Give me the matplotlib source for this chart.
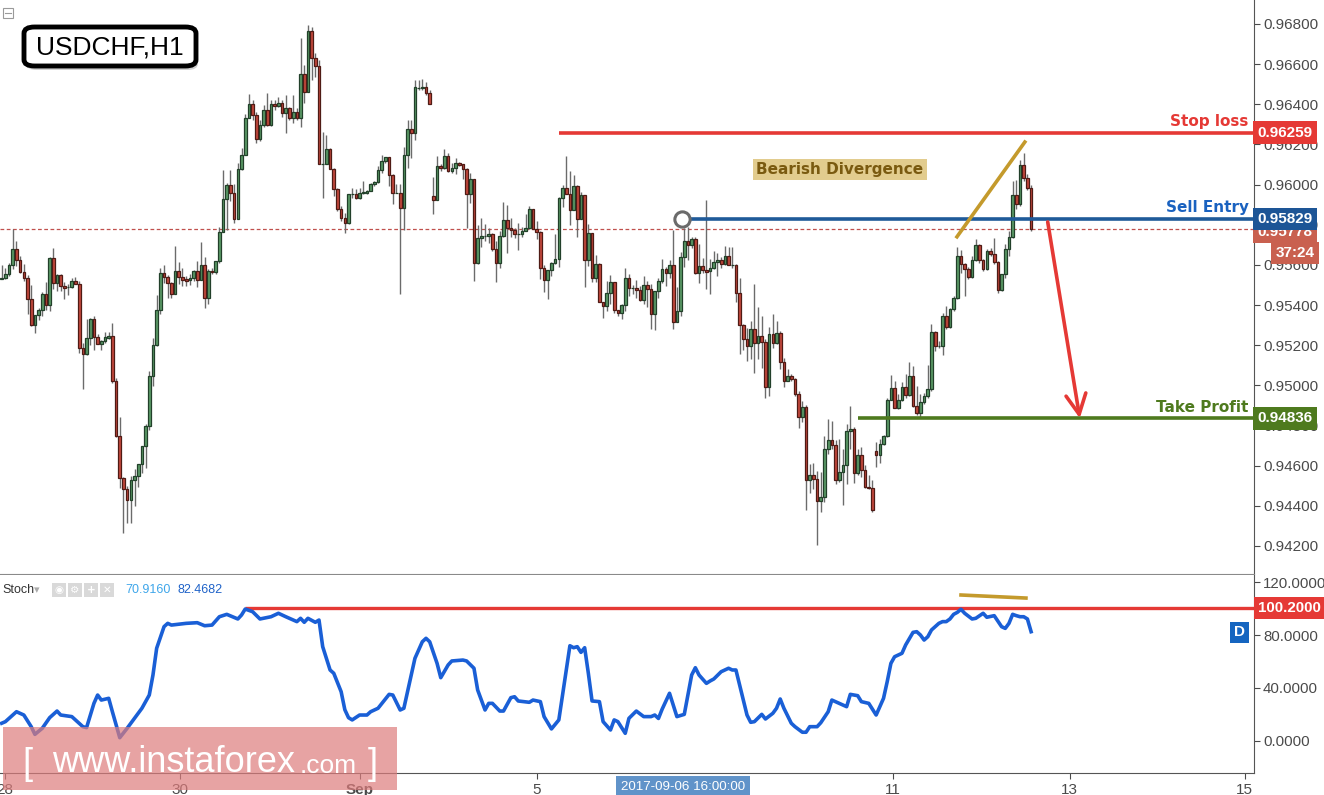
import matplotlib
matplotlib.use('Agg')
import matplotlib.pyplot as plt
import matplotlib.transforms as mtransforms
from matplotlib.patches import Rectangle, FancyBboxPatch
import numpy as np

# USDCHF H1, prices in 1e-5 units
opens = [95530, 95535, 95555, 95600, 95680, 95625, 95565, 95535, 95430, 95300,
         95350, 95375, 95455, 95400, 95635, 95510, 95550, 95495, 95490, 95490,
         95520, 95505, 95185, 95155, 95235, 95330, 95240, 95205, 95220, 95235,
         95245, 95020, 94750, 94540, 94485, 94430, 94530, 94550, 94610, 94700,
         94800, 95045, 95200, 95375, 95560, 95540, 95510, 95455, 95570, 95540,
         95530, 95525, 95535, 95570, 95525, 95600, 95435, 95570, 95565, 95620,
         95765, 95930, 96000, 95960, 95830, 96080, 96145, 96330, 96400, 96345,
         96225, 96295, 96370, 96295, 96400, 96390, 96405, 96355, 96380, 96330,
         96360, 96330, 96550, 96460, 96765, 96630, 96590, 96105, 96105, 96175,
         96080, 95980, 95880, 95835, 95810, 95955, 95955, 95935, 95960, 95960,
         95970, 96005, 96015, 96075, 96120, 96135, 96050, 95960, 95960, 95885,
         96145, 96275, 96255, 96480, 96480, 96485, 96455, 95945, 95925, 96095,
         96085, 96140, 96070, 96085, 96110, 96105, 96080, 95955, 96030, 95610,
         95735, 95745, 95745, 95755, 95680, 95610, 95745, 95825, 95785, 95775,
         95755, 95755, 95770, 95785, 95880, 95780, 95765, 95585, 95525, 95575,
         95610, 95630, 95935, 95985, 95955, 95875, 95995, 95830, 95950, 95625,
         95760, 95535, 95605, 95415, 95395, 95460, 95515, 95375, 95360, 95400,
         95535, 95485, 95485, 95475, 95425, 95500, 95480, 95355, 95470, 95520,
         95580, 95560, 95600, 95315, 95370, 95640, 95720, 95700, 95730, 95560,
         95595, 95575, 95570, 95585, 95615, 95625, 95605, 95645, 95600, 95600,
         95460, 95300, 95230, 95195, 95280, 95210, 95245, 95215, 94990, 95255,
         95210, 95260, 95115, 95020, 95045, 95030, 94955, 94840, 94890, 94530,
         94555, 94535, 94425, 94445, 94685, 94730, 94705, 94530, 94570, 94605,
         94775, 94785, 94565, 94655, 94580, 94495, 94490, 94675, 94655, 94710,
         94750, 94925, 94985, 94885, 94925, 94990, 94950, 95045, 94895, 94860,
         94915, 94945, 94980, 95265, 95195, 95195, 95345, 95290, 95380, 95435,
         95645, 95605, 95580, 95540, 95625, 95700, 95625, 95580, 95670, 95655,
         95615, 95475, 95555, 95680, 95740, 95950, 95905, 96100, 96035, 95985]

highs = [95600, 95585, 95610, 95780, 95720, 95645, 95605, 95550, 95500, 95350,
         95385, 95465, 95515, 95640, 95685, 95555, 95555, 95515, 95505, 95535,
         95540, 95520, 95210, 95330, 95335, 95345, 95255, 95225, 95265, 95265,
         95310, 95035, 94840, 94545, 94500, 94550, 94585, 94610, 94700, 94810,
         95070, 95235, 95450, 95585, 95600, 95550, 95515, 95695, 95615, 95585,
         95545, 95555, 95575, 95620, 95715, 95640, 95580, 95585, 95620, 95790,
         96075, 96010, 96075, 96005, 96110, 96180, 96350, 96450, 96420, 96360,
         96320, 96395, 96455, 96420, 96420, 96435, 96420, 96445, 96385, 96445,
         96380, 96730, 96595, 96795, 96785, 96655, 96620, 96260, 96245, 96180,
         96085, 95985, 95895, 95860, 95955, 95985, 95980, 95985, 96020, 95975,
         96010, 96020, 96095, 96145, 96135, 96135, 96055, 96005, 96005, 96185,
         96320, 96320, 96520, 96520, 96525, 96510, 96470, 96040, 96140, 96105,
         96175, 96155, 96110, 96130, 96115, 96105, 96085, 96060, 96030, 95800,
         95835, 95805, 95785, 95760, 95720, 95770, 95915, 95900, 95835, 95785,
         95810, 95790, 95855, 95895, 95880, 95820, 95770, 95600, 95575, 95615,
         95755, 95940, 96000, 96140, 96070, 96050, 96000, 95965, 95950, 95805,
         95760, 95650, 95610, 95415, 95520, 95550, 95515, 95375, 95405, 95585,
         95555, 95500, 95525, 95495, 95545, 95520, 95505, 95470, 95535, 95630,
         95590, 95625, 95775, 95490, 95665, 95785, 95790, 95740, 95740, 95705,
         95635, 95925, 95630, 95670, 95660, 95640, 95695, 95690, 95690, 95605,
         95535, 95305, 95285, 95320, 95505, 95390, 95345, 95230, 95290, 95355,
         95320, 95270, 95135, 95080, 95055, 95035, 94970, 94920, 94900, 94610,
         94615, 94575, 94570, 94750, 94830, 94820, 94730, 94735, 94685, 94810,
         94895, 94795, 94685, 94695, 94605, 94555, 94530, 94720, 94735, 94755,
         94935, 95050, 95020, 94955, 95015, 95055, 95115, 95095, 94995, 94955,
         94960, 95100, 95305, 95270, 95220, 95360, 95395, 95385, 95445, 95690,
         95675, 95610, 95590, 95645, 95730, 95705, 95630, 95680, 95685, 95735,
         95620, 95555, 95705, 95770, 96020, 96025, 96125, 96155, 96055, 96000]

lows = [95530, 95530, 95545, 95580, 95595, 95560, 95520, 95355, 95295, 95260,
        95325, 95345, 95375, 95370, 95480, 95470, 95470, 95430, 95450, 95485,
        95505, 95160, 94980, 95150, 95200, 95175, 95205, 95175, 95210, 95230,
        95010, 94745, 94490, 94265, 94315, 94315, 94400, 94495, 94565, 94590,
        94780, 94995, 95195, 95355, 95510, 95435, 95435, 95455, 95505, 95495,
        95495, 95500, 95520, 95490, 95525, 95385, 95405, 95555, 95555, 95610,
        95765, 95775, 95920, 95810, 95830, 96075, 96145, 96330, 96320, 96205,
        96215, 96285, 96290, 96290, 96370, 96385, 96335, 96255, 96320, 96305,
        96320, 96285, 96405, 96460, 96520, 96535, 96105, 95935, 96105, 96080,
        95945, 95870, 95820, 95760, 95805, 95935, 95930, 95930, 95955, 95955,
        95970, 95995, 96010, 96060, 96110, 95995, 95905, 95960, 95455, 95775,
        96085, 96130, 96220, 96470, 96470, 96445, 96400, 95855, 95925, 96070,
        96080, 96065, 96060, 96055, 96095, 96030, 95785, 95910, 95520, 95605,
        95690, 95720, 95710, 95670, 95515, 95585, 95740, 95660, 95740, 95735,
        95675, 95740, 95770, 95780, 95780, 95730, 95530, 95465, 95430, 95545,
        95605, 95590, 95890, 95955, 95800, 95875, 95740, 95830, 95490, 95595,
        95515, 95515, 95415, 95335, 95370, 95405, 95360, 95345, 95330, 95370,
        95445, 95455, 95435, 95420, 95405, 95390, 95280, 95275, 95435, 95510,
        95495, 95535, 95280, 95315, 95345, 95590, 95625, 95685, 95555, 95510,
        95560, 95480, 95455, 95580, 95545, 95585, 95600, 95600, 95585, 95415,
        95155, 95175, 95120, 95130, 95060, 95130, 95085, 94935, 94945, 95185,
        95205, 95080, 94990, 95020, 95020, 94945, 94790, 94815, 94380, 94465,
        94485, 94205, 94370, 94420, 94660, 94685, 94510, 94520, 94405, 94510,
        94685, 94515, 94555, 94545, 94490, 94485, 94370, 94595, 94615, 94705,
        94745, 94925, 94885, 94880, 94920, 94935, 94945, 94890, 94850, 94840,
        94905, 94935, 94970, 95170, 95185, 95150, 95280, 95285, 95370, 95430,
        95560, 95445, 95530, 95535, 95620, 95610, 95570, 95575, 95645, 95605,
        95460, 95470, 95535, 95645, 95735, 95880, 95895, 96020, 95975, 95770]

closes = [95535, 95555, 95600, 95680, 95625, 95565, 95535, 95430, 95300, 95350,
          95375, 95455, 95400, 95635, 95510, 95550, 95495, 95485, 95490, 95520,
          95505, 95185, 95155, 95235, 95330, 95240, 95205, 95220, 95240, 95245,
          95020, 94750, 94540, 94485, 94430, 94530, 94550, 94610, 94700, 94800,
          95045, 95200, 95375, 95560, 95540, 95510, 95455, 95570, 95540, 95525,
          95520, 95535, 95570, 95525, 95600, 95435, 95570, 95565, 95620, 95765,
          95930, 96000, 95960, 95830, 96080, 96145, 96330, 96400, 96345, 96225,
          96295, 96370, 96295, 96400, 96390, 96405, 96355, 96380, 96330, 96360,
          96330, 96550, 96460, 96765, 96630, 96590, 96105, 96105, 96175, 96080,
          95980, 95880, 95835, 95810, 95955, 95955, 95935, 95960, 95965, 95970,
          96005, 96015, 96075, 96120, 96135, 96050, 95960, 95960, 95885, 96145,
          96275, 96255, 96485, 96480, 96485, 96455, 96400, 95925, 96095, 96085,
          96140, 96070, 96085, 96110, 96100, 96080, 95955, 96030, 95610, 95735,
          95745, 95745, 95755, 95680, 95610, 95745, 95825, 95785, 95775, 95755,
          95755, 95770, 95785, 95880, 95780, 95765, 95585, 95525, 95575, 95610,
          95630, 95935, 95985, 95955, 95875, 95995, 95830, 95950, 95625, 95760,
          95535, 95605, 95415, 95395, 95460, 95515, 95375, 95360, 95400, 95535,
          95485, 95485, 95475, 95425, 95500, 95480, 95355, 95470, 95520, 95580,
          95560, 95600, 95315, 95370, 95640, 95720, 95700, 95730, 95560, 95595,
          95575, 95565, 95585, 95615, 95625, 95605, 95645, 95600, 95600, 95460,
          95300, 95230, 95195, 95280, 95210, 95245, 95215, 94990, 95255, 95210,
          95260, 95115, 95020, 95045, 95030, 94955, 94840, 94890, 94530, 94555,
          94535, 94425, 94445, 94685, 94730, 94705, 94530, 94570, 94605, 94775,
          94785, 94565, 94655, 94580, 94495, 94490, 94380, 94655, 94710, 94750,
          94925, 94985, 94885, 94925, 94990, 94950, 95045, 94895, 94860, 94915,
          94945, 94980, 95265, 95195, 95195, 95345, 95290, 95380, 95435, 95645,
          95605, 95580, 95540, 95625, 95700, 95625, 95580, 95670, 95655, 95615,
          95475, 95555, 95680, 95740, 95950, 95905, 96100, 96035, 95985, 95778]

# Stochastic %D (bar index, value)
stoch_points = [(0, 13.4), (1, 14.6), (4, 22.1), (6, 19.6), (8, 10.8), (9, 5.0), (11, 9.6),
                (13, 17.6), (15, 22.6), (16, 19.6), (19, 18.4), (22, 10.8), (23, 10.1),
                (25, 28.4), (26, 34.7), (27, 30.9), (29, 32.2), (30, 22.1), (32, 2.5),
                (34, 9.6), (36, 17.1), (38, 24.7), (40, 34.7), (41, 49.8), (42, 70.0),
                (44, 86.3), (45, 88.8), (46, 87.5), (50, 88.8), (53, 89.3), (55, 87.0),
                (57, 87.5), (59, 93.8), (61, 95.6), (64, 92.1), (65, 95.1), (66, 99.6),
                (68, 97.6), (70, 92.1), (73, 93.8), (75, 96.4), (77, 93.8), (79, 91.3),
                (80, 90.1), (81, 92.6), (82, 89.6), (83, 92.6), (85, 89.6), (86, 91.3),
                (87, 71.2), (89, 53.6), (90, 51.1), (92, 37.2), (93, 23.6), (94, 17.6),
                (95, 15.9), (97, 19.6), (99, 19.6), (100, 22.1), (102, 24.7), (105, 35.2),
                (106, 34.7), (108, 23.4), (109, 24.7), (111, 49.8), (112, 62.4), (114, 74.9),
                (115, 77.5), (116, 74.9), (118, 58.6), (119, 47.8), (121, 57.4), (122, 60.4),
                (125, 61.1), (126, 60.4), (128, 54.9), (129, 38.5), (131, 23.4), (132, 28.4),
                (133, 28.4), (135, 22.6), (136, 22.6), (138, 32.7), (139, 33.4), (140, 30.2),
                (143, 29.2), (144, 30.9), (146, 29.7), (147, 18.4), (149, 9.1), (151, 15.9),
                (152, 34.7), (154, 71.9), (155, 70.4), (156, 71.2), (157, 66.9), (158, 70.4),
                (159, 51.1), (160, 30.2), (162, 29.7), (163, 14.6), (165, 8.3), (166, 15.9),
                (167, 14.6), (169, 5.8), (170, 17.1), (172, 22.6), (174, 18.4), (176, 18.4),
                (177, 19.6), (178, 17.0), (179, 24.0), (181, 36.0), (183, 18.4), (185, 20.1),
                (187, 49.8), (188, 55.3), (189, 49.8), (191, 43.5), (192, 45.3), (193, 46.8),
                (195, 52.3), (197, 54.9), (198, 53.6), (199, 53.6), (200, 42.3), (202, 19.6),
                (203, 14.1), (204, 14.6), (206, 20.1), (207, 16.6), (209, 20.9), (210, 24.7),
                (211, 31.7), (212, 24.7), (214, 13.4), (215, 10.8), (217, 6.6), (218, 6.6),
                (219, 10.8), (221, 10.8), (222, 13.8), (224, 22.1), (225, 30.9), (227, 28.4),
                (229, 25.9), (230, 35.2), (232, 34.2), (233, 29.7), (235, 28.4), (237, 19.6),
                (239, 32.2), (240, 44.8), (241, 58.6), (242, 63.6), (244, 66.2), (245, 72.5),
                (247, 82.0), (248, 82.5), (249, 80.0), (250, 76.2), (251, 78.7), (252, 83.8),
                (254, 88.8), (255, 90.1), (256, 90.1), (257, 92.1), (258, 95.6), (259, 97.1),
                (260, 99.4), (261, 96.4), (263, 92.1), (264, 92.6), (266, 96.4), (267, 93.4),
                (269, 94.6), (271, 86.3), (272, 85.0), (273, 88.8), (274, 95.6), (275, 94.6),
                (276, 93.8), (277, 93.8), (278, 92.1), (279, 82.5)]

# x axis labels (bar index where the day starts)
day_pos = [0.9, 48.3, 97.1, 145.1, 241.5, 289.5, 336.9]
day_labels = ['28', '30', 'Sep', '5', '11', '13', '15']

# trade levels
stop_loss = 0.96259
sell_entry = 0.95829
take_profit = 0.94836
last_price = 0.95778
stoch_level = 100.2

plt.rcParams['font.family'] = ['Liberation Sans', 'DejaVu Sans']

o = np.array(opens) / 1e5
h = np.array(highs) / 1e5
l = np.array(lows) / 1e5
c = np.array(closes) / 1e5
c[-1] = last_price
idx = np.arange(len(c))
up = c >= o

fig = plt.figure(figsize=(13.24, 7.95), dpi=100)
ax = fig.add_axes([0, 0.278, 0.9471, 0.722])
ax2 = fig.add_axes([0, 0.0277, 0.9471, 0.249], sharex=ax)

# candles
ax.vlines(idx, l, h, color='#6b6b6b', lw=1, zorder=2)
ax.bar(idx[up], (c - o)[up], bottom=o[up], width=0.72, color='#5b9a66',
       edgecolor='#22402a', linewidth=0.9, zorder=3)
ax.bar(idx[~up], (o - c)[~up], bottom=c[~up], width=0.72, color='#c3483d',
       edgecolor='#4f1b15', linewidth=0.9, zorder=3)

ax.set_xlim(-0.46, 339.4)
ax.set_ylim(0.940604, 0.969195)

# levels
ax.axhline(last_price, color='#c0504d', lw=0.9, ls=(0, (3, 2)), zorder=1)
ax.hlines(stop_loss, 151, 340, color='#e53935', lw=2.6, zorder=4)
ax.hlines(sell_entry, 186.5, 340, color='#1f5a99', lw=2.6, zorder=4)
ax.hlines(take_profit, 232, 340, color='#4e7a1e', lw=2.6, zorder=4)
ax.plot([184.4], [sell_entry], 'o', ms=11, mfc='white', mec='#6b6b6b', mew=2.2, zorder=5)

ax.annotate('', xy=(292.2, take_profit), xytext=(283.5, 0.95814),
            arrowprops=dict(arrowstyle='->,head_length=0.9,head_width=0.45', color='#e53935',
                            lw=2.6, shrinkA=0, shrinkB=0, mutation_scale=16), zorder=5)
ax.plot([258.9, 277.3], [0.9574, 0.96212], color='#c49a2c', lw=2.6, zorder=4)

lab_kw = dict(textcoords='offset points', ha='right', va='bottom', fontsize=11,
              fontweight='bold', family='DejaVu Sans', zorder=6)
ax.annotate('Stop loss', xy=(338, stop_loss), xytext=(0, 2.5), color='#e53935', **lab_kw)
ax.annotate('Sell Entry', xy=(338, sell_entry), xytext=(0, 2.5), color='#1a62c0', **lab_kw)
ax.annotate('Take Profit', xy=(338, take_profit), xytext=(0, 2.5), color='#4e7a1e', **lab_kw)

ax.text(227.2, 0.96073, 'Bearish Divergence', ha='center', va='center', fontsize=11,
        fontweight='bold', family='DejaVu Sans', color='#7a5a10',
        bbox=dict(boxstyle='square,pad=0.2', fc='#e2cc8e', ec='none'))

# price axis
ax.yaxis.tick_right()
ax.set_yticks(np.arange(0.942, 0.9681, 0.002))
ax.yaxis.set_major_formatter(matplotlib.ticker.FormatStrFormatter('%.5f'))
ax.tick_params(axis='y', length=4, pad=2.5, colors='#4a4a4a', labelsize=11, width=0.8)
ax.tick_params(axis='x', bottom=False, labelbottom=False)
for s in ['top', 'left']:
    ax.spines[s].set_visible(False)
ax.spines['right'].set_color('#555555')
ax.spines['bottom'].set_color('#8a8a8a')

tr = mtransforms.blended_transform_factory(ax.transAxes, ax.transData)
box_kw = dict(transform=tr, ha='left', va='center', color='white', fontsize=11,
              fontweight='bold', zorder=10, clip_on=False)
ax.text(1.003, last_price - 0.00012, '0.95778', bbox=dict(boxstyle='square,pad=0.28', fc='#c9604f', ec='none'), **box_kw)
ax.text(1.003, stop_loss, '0.96259', bbox=dict(boxstyle='square,pad=0.28', fc='#e53935', ec='none'), **box_kw)
ax.text(1.003, sell_entry, '0.95829', bbox=dict(boxstyle='square,pad=0.28', fc='#1d5596', ec='none'), **box_kw)
ax.text(1.003, take_profit, '0.94836', bbox=dict(boxstyle='square,pad=0.28', fc='#4e7a1e', ec='none'), **box_kw)
ax.text(1.0485, 0.95660, '37:24', transform=tr, ha='right', va='center', color='white',
        fontsize=11, fontweight='bold', zorder=10,
        bbox=dict(boxstyle='square,pad=0.28', fc='#c9604f', ec='none'))

# stochastic panel
sx = [p[0] for p in stoch_points]
sv = [p[1] for p in stoch_points]
ax2.plot(sx, sv, color='#1a5fd6', lw=2.6, zorder=3)
ax2.hlines(stoch_level, 66, 340, color='#e53935', lw=2.4, zorder=2)
ax2.plot([260, 277.6], [110.2, 107.9], color='#c49a2c', lw=2.6, zorder=3)
ax2.set_ylim(-24.15, 125.28)
ax2.yaxis.tick_right()
ax2.set_yticks([0, 40, 80, 120])
ax2.yaxis.set_major_formatter(matplotlib.ticker.FormatStrFormatter('%.4f'))
ax2.tick_params(axis='y', length=4, pad=2.5, colors='#4a4a4a', labelsize=10.8, width=0.8)
ax2.set_xticks(day_pos)
ax2.set_xticklabels(day_labels)
ax2.tick_params(axis='x', length=4, pad=3, colors='#4a4a4a', labelsize=11, width=0.8)
ax2.get_xticklabels()[2].set_fontweight('bold')
for s in ['top', 'left']:
    ax2.spines[s].set_visible(False)
ax2.spines['right'].set_color('#555555')
ax2.spines['bottom'].set_color('#555555')

tr2 = mtransforms.blended_transform_factory(ax2.transAxes, ax2.transData)
ax2.text(1.003, stoch_level, '100.2000', transform=tr2, ha='left', va='center', color='white',
         fontsize=10.8, fontweight='bold', zorder=10,
         bbox=dict(boxstyle='square,pad=0.28', fc='#e53935', ec='none'))
ax2.text(0.9885, 82.0, 'D', transform=tr2, ha='center', va='center', color='white',
         fontsize=11, fontweight='bold', zorder=10,
         bbox=dict(boxstyle='square,pad=0.25', fc='#1565c0', ec='none'))

ax2.text(184.6, -0.07, '2017-09-06 16:00:00', transform=mtransforms.blended_transform_factory(ax2.transData, ax2.transAxes),
         ha='center', va='center', color='white', fontsize=9.6, zorder=10,
         bbox=dict(boxstyle='square,pad=0.35', fc='#6093c9', ec='none'))

# stoch legend
fig.text(2 / 1324, 1 - 590 / 795, 'Stoch', fontsize=9, color='#333333', va='center')
fig.text(34 / 1324, 1 - 590 / 795, '\u25be', fontsize=8, color='#aaaaaa', va='center', family='DejaVu Sans')
for k, sym in enumerate(['\u25c9', '\u2699', '+', '\u2715']):
    x0 = (52 + k * 16) / 1324
    fig.patches.append(Rectangle((x0, 1 - 597 / 795), 14 / 1324, 14 / 795,
                                 transform=fig.transFigure, fc='#d9d9d9', ec='none'))
    fig.text(x0 + 7 / 1324, 1 - 590 / 795, sym, fontsize=7.5, color='white', ha='center',
             va='center', family='DejaVu Sans', fontweight='bold')
fig.text(125 / 1324, 1 - 590 / 795, '70.9160', fontsize=9, color='#3ea6ea', va='center')
fig.text(177 / 1324, 1 - 590 / 795, '82.4682', fontsize=9, color='#1e62c8', va='center')

# symbol label
fig.patches.append(FancyBboxPatch((26 / 1324, 1 - 70 / 795), 172 / 1324, 39 / 795,
                                  boxstyle='round,pad=0,rounding_size=0.008', transform=fig.transFigure,
                                  fc='#9a9a9a', ec='none', alpha=0.45))
fig.patches.append(FancyBboxPatch((24 / 1324, 1 - 66 / 795), 172 / 1324, 39 / 795,
                                  boxstyle='round,pad=0,rounding_size=0.008', transform=fig.transFigure,
                                  fc='white', ec='black', lw=3.5))
fig.text(110 / 1324, 1 - 47 / 795, 'USDCHF,H1', fontsize=19, color='black', ha='center', va='center')

# collapse icon
fig.patches.append(Rectangle((3 / 1324, 1 - 18 / 795), 10 / 1324, 10 / 795,
                             transform=fig.transFigure, fc='white', ec='#9a9a9a', lw=0.8))
fig.lines.append(plt.Line2D([5 / 1324, 11 / 1324], [1 - 13 / 795, 1 - 13 / 795],
                            transform=fig.transFigure, color='#9a9a9a', lw=0.8))

# watermark
fig.patches.append(Rectangle((3 / 1324, 1 - 790 / 795), 394 / 1324, 63 / 795,
                             transform=fig.transFigure, fc='#de7c7c', ec='none', alpha=0.7, zorder=20))
fig.text(22 / 1324, 1 - 765 / 795, '[', fontsize=26, color='white', va='center', zorder=21)
fig.text(52 / 1324, 1 - 762 / 795, 'www.instaforex', fontsize=26, color='white', va='center', zorder=21)
fig.text(300 / 1324, 1 - 766 / 795, '.com', fontsize=19, color='white', va='center', zorder=21)
fig.text(368 / 1324, 1 - 765 / 795, ']', fontsize=26, color='white', va='center', zorder=21)

fig.savefig('out.png', dpi=100)
